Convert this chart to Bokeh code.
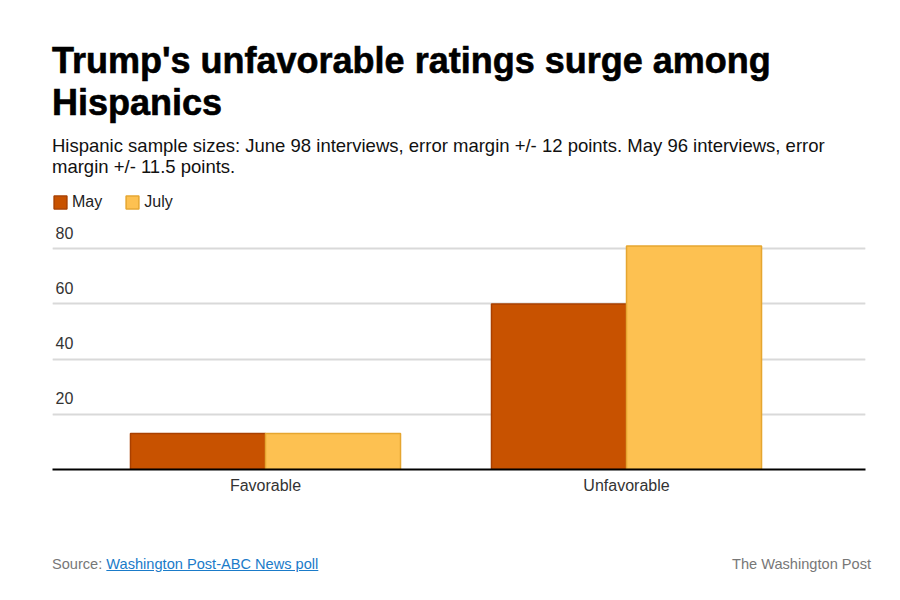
from bokeh.plotting import figure
from bokeh.models import (Div, Range1d, FixedTicker, Legend, LegendItem,
                          ColumnDataSource, Grid)
from bokeh.layouts import column
from bokeh.embed import file_html
from bokeh.resources import INLINE
from bokeh.core.properties import value

# ---- data ----
categories = ["Favorable", "Unfavorable"]
series_names = ["May", "July"]
may = [13, 60]
july = [13, 81]
y_ticks = [20, 40, 60, 80]

title_text = "Trump's unfavorable ratings surge among Hispanics"
subtitle_text = ("Hispanic sample sizes: June 98 interviews, error margin +/- 12 points. "
                 "May 96 interviews, error margin +/- 11.5 points.")
source_label = "Washington Post-ABC News poll"
credit = "The Washington Post"

# ---- styles ----
MAY_FILL, MAY_LINE = "#c85200", "#a94000"
JULY_FILL, JULY_LINE = "#fdc151", "#e6a630"
BAR_W = 0.374

idx = list(range(len(categories)))
src = ColumnDataSource(dict(
    x_may=[i - BAR_W / 2 for i in idx],
    x_july=[i + BAR_W / 2 for i in idx],
    may=may, july=july, cat=categories))

W = 888
p = figure(width=W, height=276 + 83, output_backend="svg", toolbar_location=None,
           x_range=Range1d(-0.59, 1.662), y_range=Range1d(0, 100),
           y_axis_location=None, min_border_left=52, min_border_right=23,
           min_border_top=0, min_border_bottom=83)
p.outline_line_color = None
p.xgrid.visible = False
p.add_layout(Grid(dimension=1, ticker=FixedTicker(ticks=y_ticks),
                  grid_line_color="#d9d9d9", grid_line_width=2))

r_may = p.vbar(x="x_may", top="may", width=BAR_W, bottom=0, source=src,
               fill_color=MAY_FILL, line_color=MAY_LINE, line_width=1.5)
r_july = p.vbar(x="x_july", top="july", width=BAR_W, bottom=0, source=src,
                fill_color=JULY_FILL, line_color=JULY_LINE, line_width=1.5)

# y tick labels drawn above gridlines
tick_src = ColumnDataSource(dict(y=y_ticks, t=[str(v) for v in y_ticks],
                                 x=[-0.59] * len(y_ticks)))
p.text(x="x", y="y", text="t", source=tick_src, x_offset=3, y_offset=-10,
       text_baseline="bottom", text_align="left",
       text_font=value("Liberation Sans"), text_font_size="16px",
       text_color="#333333")

ax = p.xaxis[0]
ax.ticker = FixedTicker(ticks=idx)
ax.major_label_overrides = {i: c for i, c in zip(idx, categories)}
ax.axis_line_color = "black"
ax.axis_line_width = 2
ax.major_tick_line_color = None
ax.minor_tick_line_color = None
ax.major_label_standoff = 1
ax.major_label_text_font = "Liberation Sans"
ax.major_label_text_font_size = "16px"
ax.major_label_text_color = "#333333"

legend = Legend(items=[LegendItem(label=series_names[0], renderers=[r_may]),
                       LegendItem(label=series_names[1], renderers=[r_july])],
                location="top_left", orientation="horizontal",
                margin=0, padding=0, spacing=22, label_standoff=4,
                glyph_width=16, glyph_height=16,
                label_text_font="Liberation Sans", label_text_font_size="16px",
                label_text_color="#222222", border_line_color=None,
                background_fill_alpha=0)
p.add_layout(legend)

head = Div(width=W, height=193, margin=(0, 0, 0, 0), text=f"""
<div style="padding-left:52px;padding-top:40px;">
  <div style="font-family:'Liberation Sans';font-weight:bold;-webkit-text-stroke:0.6px #000;
              font-size:36px;line-height:42px;width:790px;color:#000;">{title_text}</div>
  <div style="font-family:'Liberation Sans';font-size:18.5px;line-height:21px;
              width:790px;color:#111;margin-top:11px;">{subtitle_text}</div>
</div>""")

foot = Div(width=W, height=30, margin=(0, 0, 0, 0), text=f"""
<div style="width:{W}px;display:flex;justify-content:space-between;box-sizing:border-box;
            padding-left:52px;padding-right:17px;font-family:'Liberation Sans';
            font-size:14.6px;line-height:24px;color:#777;">
  <span>Source: <a href="#" style="color:#1a7bc9;text-decoration:underline;">{source_label}</a></span>
  <span>{credit}</span>
</div>""")

layout = column(head, p, foot, spacing=0)
open("out.html", "w").write(file_html(layout, INLINE))
